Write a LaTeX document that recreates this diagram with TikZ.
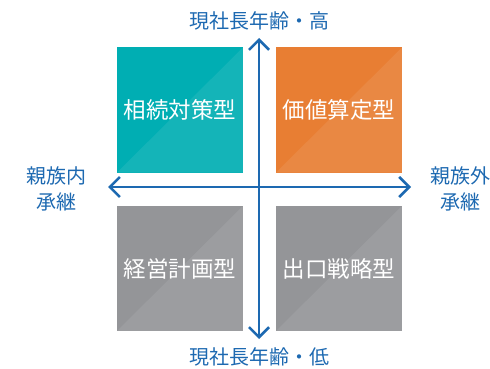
\documentclass[tikz,border=0pt]{standalone}
\usepackage{fontspec}
\setmainfont{Noto Sans CJK JP}
\usetikzlibrary{arrows.meta}
\definecolor{quadteal}{HTML}{00AEB3}
\definecolor{quadorange}{HTML}{E87E33}
\definecolor{quadgrey}{HTML}{949598}
\definecolor{axisblue}{HTML}{1D69B1}
\tikzset{>/.tip={Straight Barb[length=10pt,width=20pt]},
  quad/.style={minimum width=126pt, minimum height=125pt, inner sep=0pt,
    text=white, font=\fontsize{22.5}{26}\selectfont,
    path picture={\fill[white,opacity=.08] (path picture bounding box.south west)
      -- (path picture bounding box.north east) -- (path picture bounding box.south east) -- cycle;}},
  axislabel/.style={text=axisblue, align=center, inner sep=0pt,
    font=\fontsize{20}{26}\selectfont}}

\begin{document}
\begin{tikzpicture}[x=1pt, y=-1pt]
\useasboundingbox (0,0) rectangle (490,369);
\node[quad, fill=quadteal]   (tl) at (180,110)   {相続対策型};
\node[quad, fill=quadorange] (tr) at (339,110)   {価値算定型};
\node[quad, fill=quadgrey]   (bl) at (180,268.5) {経営計画型};
\node[quad, fill=quadgrey]   (br) at (339,268.5) {出口戦略型};

\node[axislabel] (high)  at (259,21)  {現社長年齢・高};
\node[axislabel] (low)   at (259,357) {現社長年齢・低};
\node[axislabel] (inner) at (56,189)  {親族内\\承継};
\node[axislabel] (outer) at (460,189) {親族外\\承継};

\coordinate (top)   at (259,38);
\coordinate (bot)   at (259,339);
\coordinate (left)  at (108,187);
\coordinate (right) at (411,187);

\draw[<->, axisblue, line width=2.6pt] (top) -- (bot);
\draw[<->, axisblue, line width=2.6pt] (left) -- (right);
\end{tikzpicture}
\end{document}
